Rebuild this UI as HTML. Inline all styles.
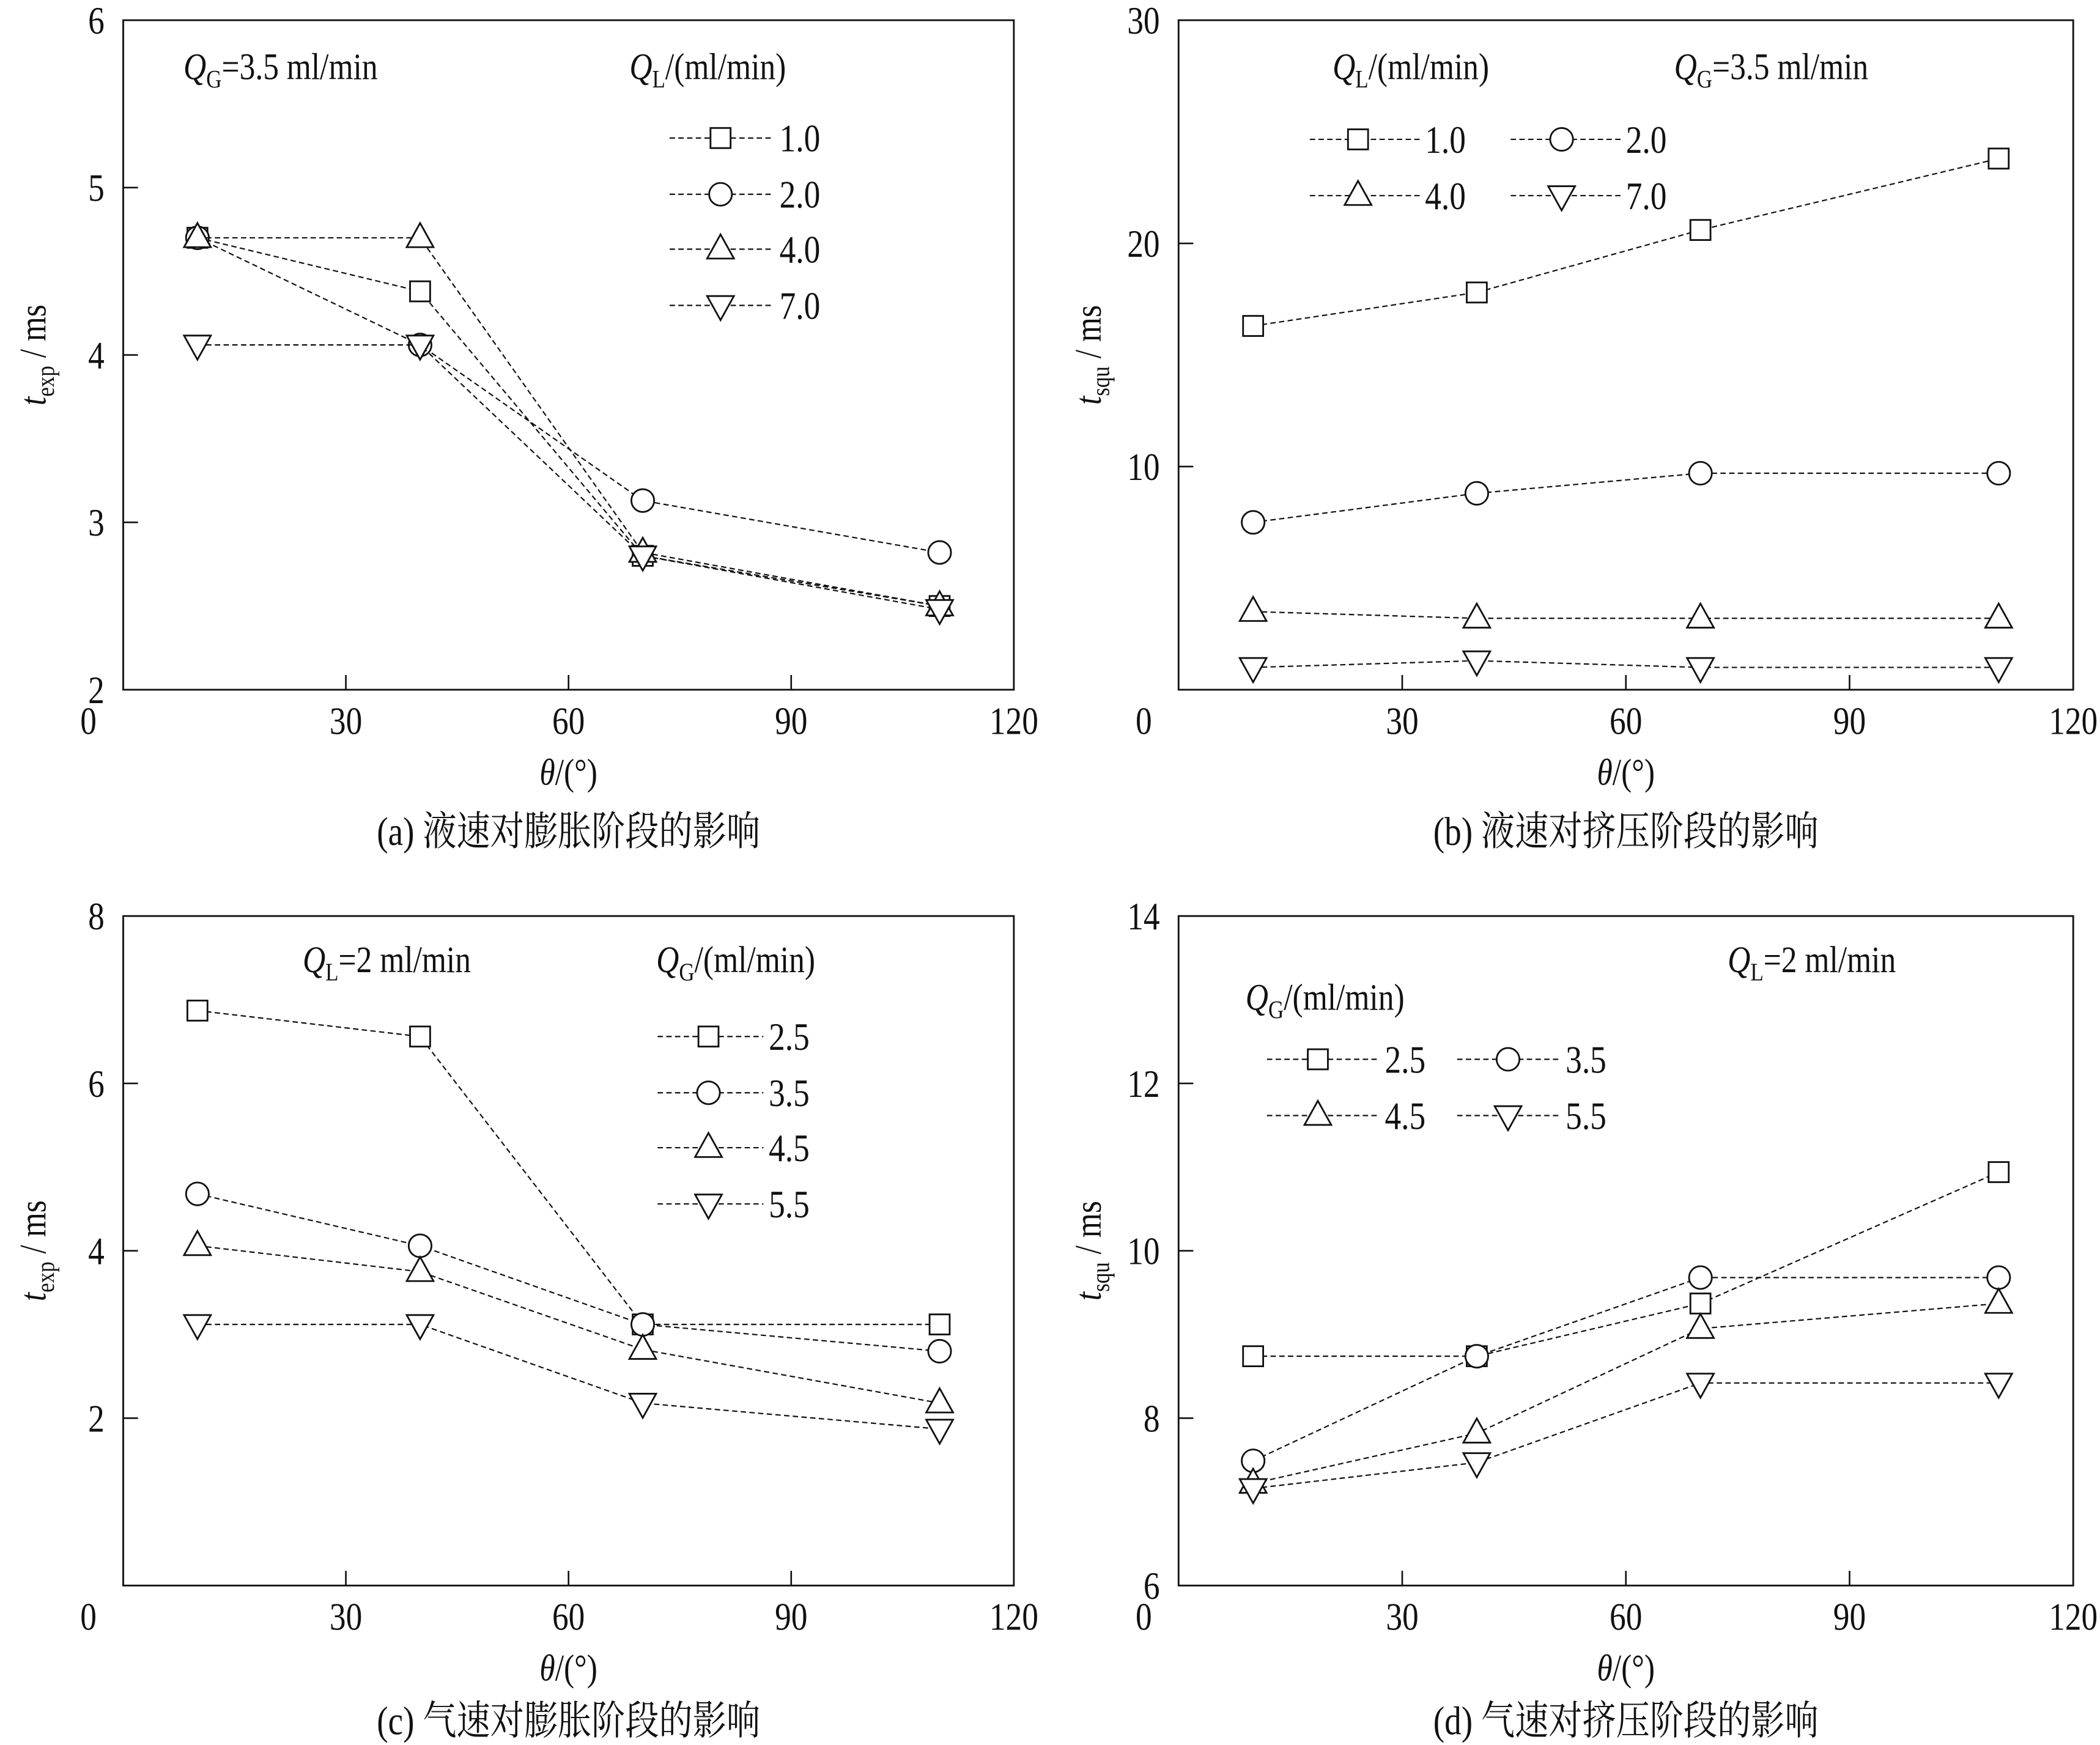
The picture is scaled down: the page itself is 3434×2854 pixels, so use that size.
<!DOCTYPE html>
<html><head><meta charset="utf-8">
<style>
html,body{margin:0;padding:0;background:#fff;}
svg{display:block;}
text{font-family:"Liberation Serif","Noto Serif CJK SC","Noto Sans CJK SC",serif;fill:#111;}
</style></head>
<body>
<svg id="chart" width="3434" height="2854" viewBox="0 0 1568 1303" xmlns="http://www.w3.org/2000/svg"></svg>
<script>
// x categories (theta, degrees)
const thetaA = [10, 40, 70, 110];
// Panel (a) t_exp vs theta, varying QL
const aQL10 = [4.70, 4.38, 2.80, 2.50];
const aQL20 = [4.70, 4.06, 3.13, 2.82];
const aQL40 = [4.70, 4.70, 2.82, 2.50];
const aQL70 = [4.06, 4.06, 2.80, 2.48];
// Panel (b) t_squ vs theta, varying QL
const bQL10 = [16.3, 17.8, 20.6, 23.8];
const bQL20 = [7.5, 8.8, 9.7, 9.7];
const bQL40 = [3.5, 3.2, 3.2, 3.2];
const bQL70 = [1.0, 1.3, 1.0, 1.0];
// Panel (c) t_exp vs theta, varying QG
const cQG25 = [6.87, 6.56, 3.12, 3.12];
const cQG35 = [4.68, 4.06, 3.12, 2.80];
const cQG45 = [4.06, 3.75, 2.82, 2.18];
const cQG55 = [3.12, 3.12, 2.18, 1.87];
// Panel (d) t_squ vs theta, varying QG
const dQG25 = [8.74, 8.74, 9.37, 10.94];
const dQG35 = [7.49, 8.74, 9.68, 9.68];
const dQG45 = [7.22, 7.82, 9.07, 9.37];
const dQG55 = [7.16, 7.47, 8.42, 8.42];
// tick labels
const xTicks = [0, 30, 60, 90, 120];
const yTicksA = [2, 3, 4, 5, 6];
const yTicksB = [10, 20, 30];
const yTicksC = [2, 4, 6, 8];
const yTicksD = [6, 8, 10, 12, 14];
const labelsQL = ["1.0", "2.0", "4.0", "7.0"];
const labelsQG = ["2.5", "3.5", "4.5", "5.5"];
const markerTypes = ["square", "circle", "up", "down"];

const NS = "http://www.w3.org/2000/svg";
const svg = document.getElementById("chart");
const CX = 0.84;
function mk(tag, attrs, parent) {
  const e = document.createElementNS(NS, tag);
  for (const k in attrs) e.setAttribute(k, attrs[k]);
  (parent || svg).appendChild(e);
  return e;
}
function txt(g, x, y, size, anchor) {
  return mk("text", {x: 0, y: 0, transform: `translate(${x},${y}) scale(${CX},1)`, "font-size": size, "text-anchor": anchor || "start"}, g);
}
function marker(g, type, x, y) {
  let e;
  if (type === "square") e = mk("rect", {x: x - 7.5, y: y - 7.5, width: 15, height: 15}, g);
  else if (type === "circle") e = mk("circle", {cx: x, cy: y, r: 8.5}, g);
  else if (type === "up") e = mk("polygon", {points: `${x},${y - 11} ${x - 10},${y + 7} ${x + 10},${y + 7}`}, g);
  else e = mk("polygon", {points: `${x},${y + 11} ${x - 10},${y - 7} ${x + 10},${y - 7}`}, g);
  e.setAttribute("fill", "#fff");
  e.setAttribute("stroke", "#111");
  e.setAttribute("stroke-width", "1.3");
  
  
  return e;
}
function richText(g, x, y, parts, size, anchor) {
  const t = txt(g, x, y, size, anchor);
  parts.forEach(p => {
    const s = mk("tspan", {}, t);
    if (p.i) s.setAttribute("font-style", "italic");
    if (p.sub) { s.setAttribute("font-size", size * 0.68); s.setAttribute("dy", size * 0.22); }
    if (p.up) s.setAttribute("dy", -size * 0.22);
    s.textContent = p.t;
  });
  return t;
}

function panel(cfg) {
  const g = mk("g", {});
  
  
  const L = cfg.L, R = cfg.R, T = cfg.T, B = cfg.B;
  const sx = v => L + v / 120 * (R - L);
  const sy = v => B - (v - cfg.ymin) / (cfg.ymax - cfg.ymin) * (B - T);
  const frame = mk("rect", {x: L, y: T, width: R - L, height: B - T, fill: "none", stroke: "#111", "stroke-width": 1.3}, g);
  
  
  xTicks.forEach(v => {
    const x = sx(v);
    if (v > 0 && v < 120) {
      const tk = mk("line", {x1: x, x2: x, y1: B, y2: B - 11, stroke: "#111", "stroke-width": 1.2}, g);
      
      
    }
    const t = txt(g, x - (v === 0 ? 26 : 0), B + 33, 29, "middle");
    t.textContent = v;
    
    
  });
  cfg.yTicks.forEach(v => {
    const y = sy(v);
    if (v > cfg.ymin && v < cfg.ymax) {
      const tk = mk("line", {x1: L, x2: L + 11, y1: y, y2: y, stroke: "#111", "stroke-width": 1.2}, g);
      
      
    }
    const t = txt(g, L - 14, y + 10, 29, "end");
    t.textContent = v;
    
    
  });
  cfg.series.forEach((vals, si) => {
    const sg = mk("g", {}, g);
    
    
    const pts = thetaA.map((xv, i) => sx(xv) + "," + sy(vals[i])).join(" ");
    const pl = mk("polyline", {points: pts, fill: "none", stroke: "#111", "stroke-width": 1, "stroke-dasharray": "4 2.5"}, sg);
    
    
    thetaA.forEach((xv, i) => marker(sg, markerTypes[si], sx(xv), sy(vals[i])));
  });
  const xt = richText(g, (L + R) / 2, B + 71, [{t: "θ", i: 1}, {t: "/(°)"}], 28, "middle");
  
  
  const yg = mk("g", {transform: `translate(${L - 58},${(T + B) / 2}) rotate(-90)`}, g);
  const yt = richText(yg, 0, 0, [{t: "t", i: 1}, {t: cfg.ysub, sub: 1}, {t: " / ms", up: 1}], 28, "middle");
  
  
  const cap = txt(g, (L + R) / 2, cfg.capY, 30, "middle");
  cap.textContent = cfg.caption;
  
  
  cfg.notes.forEach(n => {
    const t = richText(g, n.x, n.y, n.parts, 28);
    
    
  });
  cfg.legend.forEach((le, i) => {
    const lg = mk("g", {}, g);
    
    
    const ln = mk("line", {x1: le.x1, x2: le.x2, y1: le.y, y2: le.y, stroke: "#111", "stroke-width": 1, "stroke-dasharray": "4 2.5"}, lg);
    
    
    marker(lg, markerTypes[i], le.m, le.y);
    const t = txt(lg, le.x2 + 4, le.y + 10, 29);
    t.textContent = cfg.labels[i];
    
    
  });
}

const QG = [{t: "Q", i: 1}, {t: "G", sub: 1}];
const QL = [{t: "Q", i: 1}, {t: "L", sub: 1}];
function up(s) { return {t: s, up: 1}; }

panel({name: "panel-a", L: 92, R: 757, T: 15, B: 515, ymin: 2, ymax: 6, yTicks: yTicksA, ysub: "exp",
  series: [aQL10, aQL20, aQL40, aQL70], labels: labelsQL, caption: "(a) 液速对膨胀阶段的影响", capY: 631,
  notes: [{name: "condition-note", x: 137, y: 59, parts: QG.concat([up("=3.5 ml/min")])},
          {name: "legend-title", x: 470, y: 59, parts: QL.concat([up("/(ml/min)")])}],
  legend: [103, 145, 186, 228].map(y => ({x1: 500, x2: 578, m: 538, y: y}))});

panel({name: "panel-b", L: 880, R: 1548, T: 15, B: 515, ymin: 0, ymax: 30, yTicks: yTicksB, ysub: "squ",
  series: [bQL10, bQL20, bQL40, bQL70], labels: labelsQL, caption: "(b) 液速对挤压阶段的影响", capY: 631,
  notes: [{name: "legend-title", x: 995, y: 59, parts: QL.concat([up("/(ml/min)")])},
          {name: "condition-note", x: 1250, y: 59, parts: QG.concat([up("=3.5 ml/min")])}],
  legend: [{x1: 978, x2: 1060, m: 1014, y: 104}, {x1: 1128, x2: 1210, m: 1166, y: 104},
           {x1: 978, x2: 1060, m: 1014, y: 146}, {x1: 1128, x2: 1210, m: 1166, y: 146}]});

panel({name: "panel-c", L: 92, R: 757, T: 684, B: 1184, ymin: 0, ymax: 8, yTicks: yTicksC, ysub: "exp",
  series: [cQG25, cQG35, cQG45, cQG55], labels: labelsQG, caption: "(c) 气速对膨胀阶段的影响", capY: 1295,
  notes: [{name: "condition-note", x: 226, y: 726, parts: QL.concat([up("=2 ml/min")])},
          {name: "legend-title", x: 490, y: 726, parts: QG.concat([up("/(ml/min)")])}],
  legend: [774, 816, 857, 899].map(y => ({x1: 491, x2: 570, m: 529, y: y}))});

panel({name: "panel-d", L: 880, R: 1548, T: 684, B: 1184, ymin: 6, ymax: 14, yTicks: yTicksD, ysub: "squ",
  series: [dQG25, dQG35, dQG45, dQG55], labels: labelsQG, caption: "(d) 气速对挤压阶段的影响", capY: 1295,
  notes: [{name: "condition-note", x: 1290, y: 726, parts: QL.concat([up("=2 ml/min")])},
          {name: "legend-title", x: 930, y: 754, parts: QG.concat([up("/(ml/min)")])}],
  legend: [{x1: 946, x2: 1030, m: 984, y: 791}, {x1: 1088, x2: 1165, m: 1126, y: 791},
           {x1: 946, x2: 1030, m: 984, y: 833}, {x1: 1088, x2: 1165, m: 1126, y: 833}]});
</script>
</body></html>
